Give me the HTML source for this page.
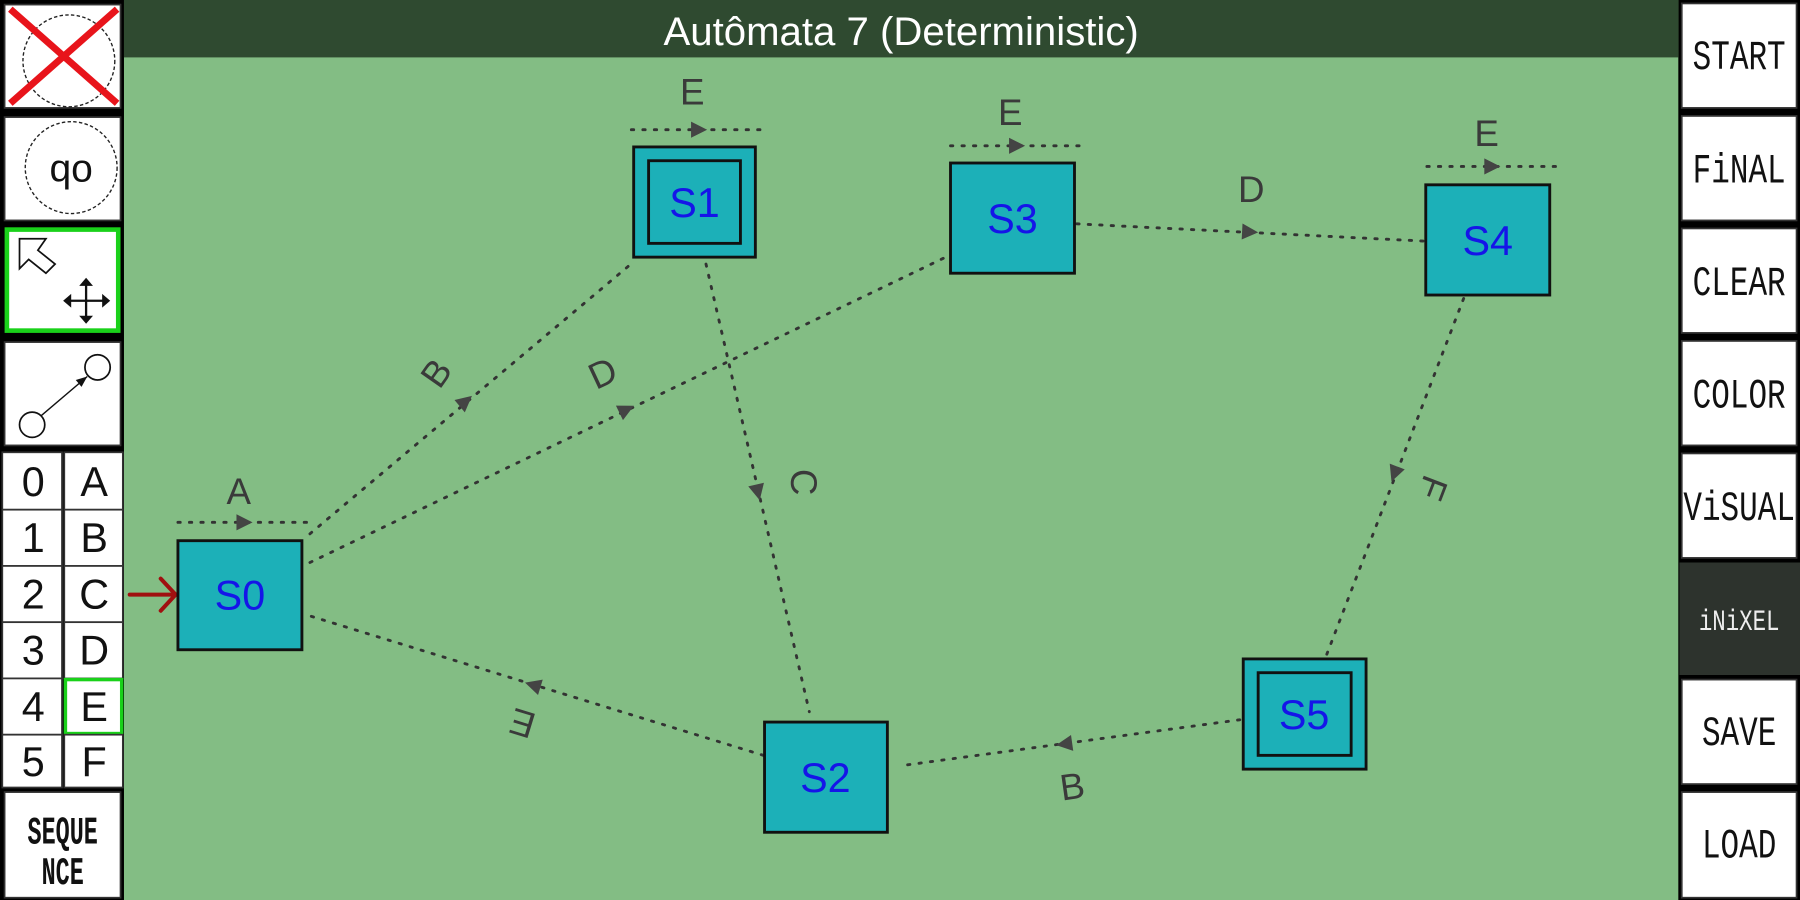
<!DOCTYPE html>
<html><head><meta charset="utf-8"><style>
html,body{margin:0;padding:0;background:#000;}
svg{display:block}
</style></head><body>
<svg width="1800" height="900" viewBox="0 0 1568 784" preserveAspectRatio="none" xmlns="http://www.w3.org/2000/svg">
<rect x="0" y="0" width="1568" height="784" fill="#000"/>
<rect x="108" y="0" width="1354" height="784" fill="#83bd84"/>
<rect x="108" y="0" width="1354" height="50" fill="#2f4a30"/>
<text x="785" y="39" font-family="Liberation Sans, sans-serif" font-size="35" fill="#fff" text-anchor="middle">Autômata 7 (Deterministic)</text>

<!-- left toolbar -->
<g fill="#fff" stroke="#333" stroke-width="1.5">
<rect x="4" y="4" width="101" height="90"/>
<rect x="4" y="102" width="101" height="90"/>
<rect x="6" y="200" width="97" height="88" stroke="#1ad11a" stroke-width="4"/>
<rect x="4" y="298" width="101" height="90"/>
</g>
<circle cx="60" cy="53" r="40" fill="none" stroke="#222" stroke-width="1.2" stroke-dasharray="3,2"/>
<line x1="9" y1="8" x2="102" y2="90" stroke="#e8141b" stroke-width="6"/>
<line x1="102" y1="8" x2="9" y2="90" stroke="#e8141b" stroke-width="6"/>
<circle cx="62" cy="146" r="40" fill="none" stroke="#222" stroke-width="1.2" stroke-dasharray="3,2"/>
<text x="62" y="158" font-family="Liberation Sans, sans-serif" font-size="34" text-anchor="middle" fill="#111">qo</text>
<polygon points="17,208 40,208 33,218 48,230 40,238 25,226 17,234" fill="#fff" stroke="#111" stroke-width="1.5"/>
<g stroke="#111" stroke-width="2"><line x1="58" y1="262" x2="93" y2="262"/><line x1="75" y1="245" x2="75" y2="280"/></g>
<g fill="#111"><polygon points="55,262 62,256 62,268"/><polygon points="96,262 89,256 89,268"/><polygon points="75,242 69,249 81,249"/><polygon points="75,282 69,275 81,275"/></g>
<circle cx="28" cy="370" r="11" fill="#fff" stroke="#111" stroke-width="1.5"/>
<circle cx="85" cy="320" r="11" fill="#fff" stroke="#111" stroke-width="1.5"/>
<line x1="36" y1="362" x2="76" y2="328" stroke="#111" stroke-width="1.2"/>
<polygon points="76,328 66,331 71,337" fill="#111"/>

<g font-family="Liberation Sans, sans-serif" font-size="36" text-anchor="middle" fill="#111">
<g fill="#fff" stroke="#333" stroke-width="1.5">
<rect x="2" y="394" width="52" height="50"/><rect x="56" y="394" width="51" height="50"/>
<rect x="2" y="444" width="52" height="49"/><rect x="56" y="444" width="51" height="49"/>
<rect x="2" y="493" width="52" height="49"/><rect x="56" y="493" width="51" height="49"/>
<rect x="2" y="542" width="52" height="49"/><rect x="56" y="542" width="51" height="49"/>
<rect x="2" y="591" width="52" height="49"/><rect x="57" y="592" width="49" height="47" stroke="#1ad11a" stroke-width="3"/>
<rect x="2" y="640" width="52" height="46"/><rect x="56" y="640" width="51" height="46"/>
<rect x="4" y="690" width="101" height="92"/>
</g>
<text x="29" y="432">0</text><text x="82" y="432">A</text>
<text x="29" y="481">1</text><text x="82" y="481">B</text>
<text x="29" y="530">2</text><text x="82" y="530">C</text>
<text x="29" y="579">3</text><text x="82" y="579">D</text>
<text x="29" y="628">4</text><text x="82" y="628">E</text>
<text x="29" y="676">5</text><text x="82" y="676">F</text>
</g>
<g font-family="Liberation Mono, monospace" font-size="34" font-weight="bold" text-anchor="middle" fill="#111" transform="scale(0.6,1)">
<text x="91" y="735">SEQUE</text><text x="91" y="770">NCE</text>
</g>

<!-- right toolbar -->
<g fill="#fff" stroke="#333" stroke-width="1.5">
<rect x="1465" y="3" width="100" height="91"/>
<rect x="1465" y="101" width="100" height="91"/>
<rect x="1465" y="199" width="100" height="91"/>
<rect x="1465" y="297" width="100" height="91"/>
<rect x="1465" y="395" width="100" height="91"/>
<rect x="1463" y="490" width="105" height="98" fill="#2d332d" stroke="none"/>
<rect x="1465" y="592" width="100" height="91"/>
<rect x="1465" y="690" width="100" height="92"/>
</g>
<g font-family="Liberation Mono, monospace" font-size="36" text-anchor="middle" fill="#111" transform="scale(0.75,1)">
<text x="2020" y="60">START</text>
<text x="2020" y="159">FiNAL</text>
<text x="2020" y="257">CLEAR</text>
<text x="2020" y="355">COLOR</text>
<text x="2020" y="453">ViSUAL</text>
<text x="2020" y="549" fill="#eee" font-size="26">iNiXEL</text>
<text x="2020" y="649">SAVE</text>
<text x="2020" y="747">LOAD</text>
</g>

<!-- edges -->
<g stroke="#333" stroke-width="2.5" stroke-dasharray="2,8" stroke-linecap="round" fill="none">
<line x1="270" y1="465" x2="552" y2="228"/>
<line x1="270" y1="490" x2="828" y2="222"/>
<line x1="615" y1="230" x2="705" y2="620"/>
<line x1="938" y1="195" x2="1240" y2="210"/>
<line x1="1275" y1="260" x2="1155" y2="572"/>
<line x1="1080" y1="627" x2="785" y2="667"/>
<line x1="665" y1="658" x2="265" y2="535"/>
<line x1="155" y1="455" x2="268" y2="455"/>
<line x1="550" y1="113" x2="662" y2="113"/>
<line x1="828" y1="127" x2="940" y2="127"/>
<line x1="1243" y1="145" x2="1355" y2="145"/>
</g>
<g fill="#444">
<polygon points="8,0 -6,-7 -6,7" transform="translate(405,350) rotate(-40)"/>
<polygon points="8,0 -6,-7 -6,7" transform="translate(545,357) rotate(-26)"/>
<polygon points="8,0 -6,-7 -6,7" transform="translate(660,428) rotate(77)"/>
<polygon points="8,0 -6,-7 -6,7" transform="translate(1088,202) rotate(3)"/>
<polygon points="8,0 -6,-7 -6,7" transform="translate(1215,412) rotate(111)"/>
<polygon points="8,0 -6,-7 -6,7" transform="translate(928,648) rotate(172)"/>
<polygon points="8,0 -6,-7 -6,7" transform="translate(465,597) rotate(197)"/>
<polygon points="8,0 -6,-7 -6,7" transform="translate(212,455)"/>
<polygon points="8,0 -6,-7 -6,7" transform="translate(608,113)"/>
<polygon points="8,0 -6,-7 -6,7" transform="translate(885,127)"/>
<polygon points="8,0 -6,-7 -6,7" transform="translate(1299,145)"/>
</g>
<g font-family="Liberation Sans, sans-serif" font-size="32" fill="#3a3a3a" text-anchor="middle">
<text transform="translate(380,325) rotate(-55)" y="11">B</text>
<text transform="translate(525,325) rotate(-25)" y="11">D</text>
<text transform="translate(700,420) rotate(90)" y="11">C</text>
<text transform="translate(1090,165)" y="11">D</text>
<text transform="translate(1248,425) rotate(111)" y="11">F</text>
<text transform="translate(934,685) rotate(-8)" y="11">B</text>
<text transform="translate(455,630) rotate(197)" y="11">E</text>
<text x="208" y="439">A</text>
<text x="603" y="91">E</text>
<text x="880" y="109">E</text>
<text x="1295" y="127">E</text>
</g>

<!-- initial arrow -->
<g stroke="#a01010" stroke-width="3.5" fill="none" stroke-linecap="round">
<line x1="113" y1="518" x2="152" y2="518"/>
<polyline points="140,504 153,518 140,532"/>
</g>

<!-- nodes -->
<g fill="#1cb0b8" stroke="#111" stroke-width="2.5">
<rect x="155" y="471" width="108" height="95"/>
<rect x="552" y="128" width="106" height="96"/>
<rect x="565" y="140" width="80" height="72" fill="none"/>
<rect x="828" y="142" width="108" height="96"/>
<rect x="1242" y="161" width="108" height="96"/>
<rect x="666" y="629" width="107" height="96"/>
<rect x="1083" y="574" width="107" height="96"/>
<rect x="1096" y="586" width="81" height="72" fill="none"/>
</g>
<g font-family="Liberation Sans, sans-serif" font-size="36" fill="#1515e8" text-anchor="middle">
<text x="209" y="531">S0</text>
<text x="605" y="189">S1</text>
<text x="882" y="203">S3</text>
<text x="1296" y="222">S4</text>
<text x="719" y="690">S2</text>
<text x="1136" y="635">S5</text>
</g>
</svg>
</body></html>
